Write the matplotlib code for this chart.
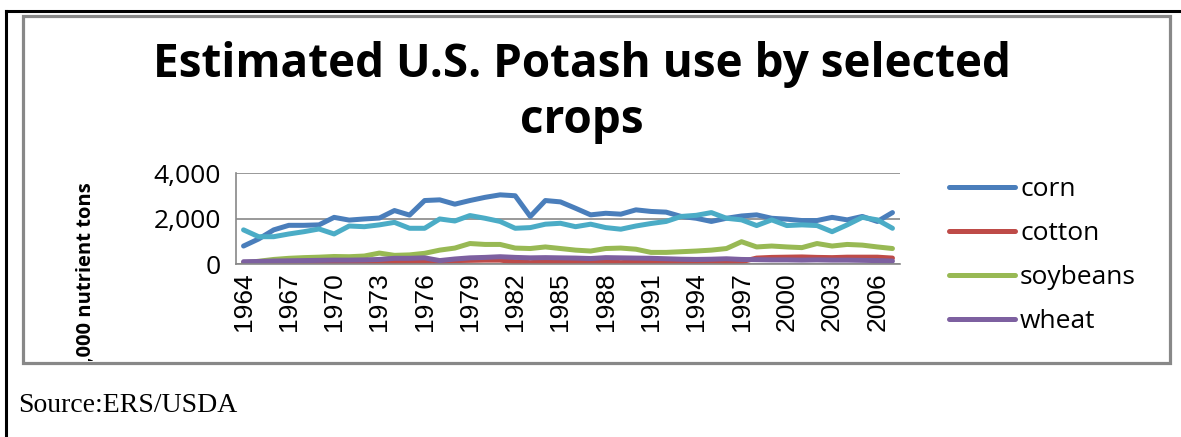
import matplotlib

matplotlib.use("Agg")
import matplotlib.pyplot as plt
from matplotlib.lines import Line2D
from matplotlib.patches import Rectangle

years = list(range(1964, 2008))

corn = [
    790, 1100, 1500, 1700, 1700, 1720, 2050, 1930, 1980, 2020,
    2350, 2150, 2790, 2820, 2630, 2790, 2930, 3040, 3000, 2090,
    2790, 2730, 2450, 2160, 2230, 2190, 2380, 2310, 2280, 2090,
    2010, 1870, 2010, 2110, 2160, 2010, 1970, 1910, 1910, 2050,
    1940, 2090, 1870, 2260,
]
other = [
    1500, 1200, 1200, 1320, 1420, 1540, 1320, 1670, 1640, 1720,
    1830, 1570, 1570, 1980, 1890, 2130, 2010, 1870, 1570, 1600,
    1750, 1790, 1640, 1750, 1600, 1530, 1670, 1780, 1870, 2090,
    2140, 2260, 2010, 1940, 1690, 1940, 1690, 1720, 1690, 1420,
    1720, 2050, 1940, 1570,
]
cotton = [
    40, 40, 50, 50, 60, 60, 70, 70, 80, 90,
    110, 120, 130, 120, 150, 160, 170, 170, 100, 60,
    90, 110, 80, 70, 100, 60, 90, 110, 100, 90,
    110, 120, 110, 100, 260, 290, 300, 310, 290, 280,
    300, 300, 300, 260,
]
soybeans = [
    50, 120, 200, 250, 280, 300, 330, 320, 350, 480,
    380, 400, 470, 610, 700, 900, 860, 860, 700, 680,
    750, 680, 610, 570, 680, 700, 650, 510, 510, 540,
    570, 610, 680, 980, 750, 790, 750, 720, 900, 790,
    860, 830, 750, 680,
]
wheat = [
    100, 110, 130, 140, 150, 160, 170, 170, 180, 200,
    250, 250, 270, 150, 220, 270, 290, 320, 290, 270,
    280, 270, 260, 240, 280, 270, 260, 250, 230, 210,
    200, 210, 230, 200, 190, 180, 180, 170, 180, 170,
    170, 160, 150, 130,
]

SERIES = [
    ("corn", corn, "#4A7EBB"),
    ("cotton", cotton, "#BE4B48"),
    ("soybeans", soybeans, "#98B954"),
    ("wheat", wheat, "#7D60A0"),
    ("_other", other, "#4BACC6"),
]

W, H = 1181, 437
fig = plt.figure(figsize=(W / 100, H / 100), dpi=100)
fig.patch.set_facecolor("white")


def fx(px):
    return px / W


def fy(py):
    return 1 - py / H


# document frame and chart border
fig.add_artist(Line2D([fx(6), fx(6)], [fy(11), 0], color="black", lw=2.2))
fig.add_artist(Line2D([fx(6), 1], [fy(11), fy(11)], color="black", lw=2.2))
border = Rectangle((fx(23), fy(363)), fx(1170) - fx(23), fy(16) - fy(363),
                   transform=fig.transFigure, fill=False, edgecolor="#888888", lw=2.3)
fig.add_artist(border)

fig.text(fx(582), fy(65), "Estimated U.S. Potash use by selected", ha="center", va="center",
         fontsize=33, weight="bold", family="Open Sans")
fig.text(fx(582), fy(121), "crops", ha="center", va="center",
         fontsize=33, weight="bold", family="Open Sans")

ax = fig.add_axes([fx(236), fy(264), fx(900) - fx(236), fy(173) - fy(264)])
x = list(range(len(years)))
for name, values, color in SERIES:
    ax.plot(x, values, color=color, lw=3.6, label=name, solid_capstyle="round")

ax.set_xlim(-0.5, len(years) - 0.5)
ax.set_ylim(0, 4000)
ax.set_yticks([0, 2000, 4000])
ax.set_yticklabels(["0", "2,000", "4,000"], fontsize=19, family="Open Sans")
ax.set_xticks(x[::3])
ax.set_xticklabels([str(y) for y in years[::3]], rotation=90, fontsize=19,
                   family="Liberation Sans")
ax.tick_params(length=0)
ax.tick_params(axis="x", pad=6)
ax.tick_params(axis="y", pad=11)
ax.grid(axis="y", color="#888888", lw=1.2)
ax.set_axisbelow(True)
for side in ("top", "right"):
    ax.spines[side].set_visible(False)
for side in ("left", "bottom"):
    ax.spines[side].set_color("#888888")
    ax.spines[side].set_linewidth(1.2)

ylab = fig.text(fx(86), fy(182), "1,000 nutrient tons", rotation=90, ha="center", va="top",
                fontsize=14.5, weight="bold", family="Open Sans")
clip = Rectangle((0, fy(361)), 1, 1, transform=fig.transFigure, visible=False)
fig.add_artist(clip)
ylab.set_clip_path(clip)

handles, labels = ax.get_legend_handles_labels()
fig.legend(handles[:4], labels[:4], loc="center left", bbox_to_anchor=(fx(925), fy(256)),
           frameon=False, handlelength=2.5, labelspacing=0.72,
           handletextpad=0.2, prop={"family": "Open Sans", "size": 19})

fig.text(fx(18), fy(405), "Source:ERS/USDA", ha="left", va="center", fontsize=20,
         family="Liberation Serif")

fig.savefig("out.png", dpi=100)
